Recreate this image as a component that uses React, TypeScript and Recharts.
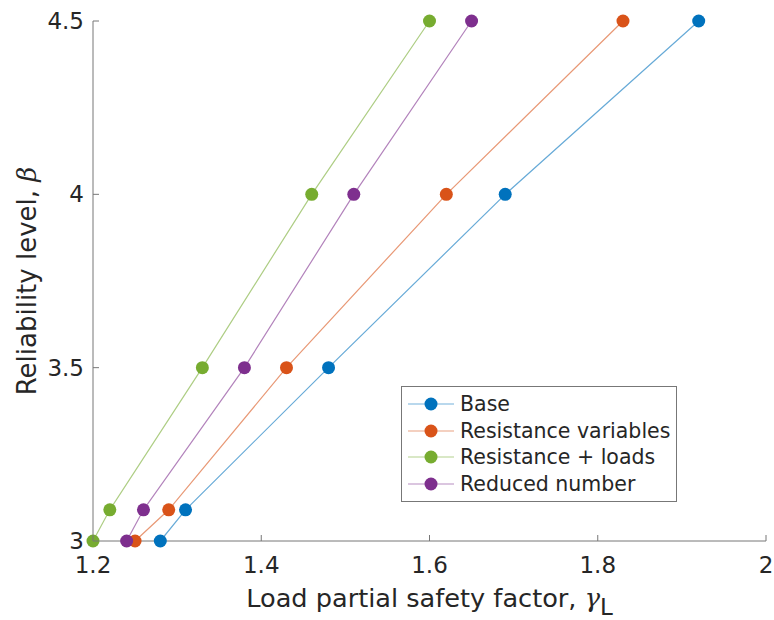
import { LineChart, Line, XAxis, YAxis, Legend } from "recharts";

// reliability targets (beta) and the load factor needed for each
const betaLevels = [3, 3.09, 3.5, 4, 4.5];
const baseGamma = [1.28, 1.31, 1.48, 1.69, 1.92];
const resistanceGamma = [1.25, 1.29, 1.43, 1.62, 1.83];
const resLoadsGamma = [1.2, 1.22, 1.33, 1.46, 1.6];
const reducedGamma = [1.24, 1.26, 1.38, 1.51, 1.65];

const xTicks = [1.2, 1.4, 1.6, 1.8, 2];
const yTicks = [3, 3.5, 4, 4.5];

const seriesNames = ["Base", "Resistance variables", "Resistance + loads", "Reduced number"];
const seriesColors = ["#0072BD", "#D95319", "#77AC30", "#7E2F8E"];
const seriesGamma = [baseGamma, resistanceGamma, resLoadsGamma, reducedGamma];

const series = seriesNames.map((name, i) => ({
  name,
  color: seriesColors[i],
  data: seriesGamma[i].map((g, j) => ({ x: g, y: betaLevels[j] })),
}));

const FONT = "'DejaVu Sans', sans-serif";
const AXIS = "#777";
const TEXT = "#262626";

const XTick = ({ x, y, payload }: any) => (
  <g>
    <line x1={x} x2={x} y1={y} y2={y - 6} stroke={AXIS} />
    <text x={x} y={y + 32} textAnchor="middle" fontSize={23} fontFamily={FONT} fill={TEXT}>
      {String(payload.value)}
    </text>
  </g>
);

const YTick = ({ x, y, payload }: any) => (
  <g>
    <line x1={x} x2={x + 6} y1={y} y2={y} stroke={AXIS} />
    <text x={x - 9} y={y + 8} textAnchor="end" fontSize={23} fontFamily={FONT} fill={TEXT}>
      {String(payload.value)}
    </text>
  </g>
);

const LegendBox = () => (
  <div
    style={{
      border: "1px solid #777",
      background: "#fff",
      width: 274,
      padding: "4px 0",
      fontFamily: FONT,
      fontSize: 20.5,
      color: TEXT,
    }}
  >
    {series.map((s) => (
      <div key={s.name} style={{ display: "flex", alignItems: "center", height: 26.5 }}>
        <svg width={58} height={20} style={{ flex: "none" }}>
          <line x1={6} x2={52} y1={10} y2={10} stroke={s.color} strokeOpacity={0.55} />
          <circle cx={29} cy={10} r={6.5} fill={s.color} />
        </svg>
        <span style={{ whiteSpace: "nowrap" }}>{s.name}</span>
      </div>
    ))}
  </div>
);

export default function App() {
  return (
    <div style={{ position: "absolute", left: 0, top: 0, background: "#fff" }}>
      <LineChart width={774} height={620} margin={{ top: 21, right: 8, bottom: 0, left: 0 }}>
        <XAxis
          type="number"
          dataKey="x"
          domain={[1.2, 2]}
          ticks={xTicks}
          allowDuplicatedCategory={false}
          height={79}
          tickSize={0}
          tickMargin={0}
          tickLine={false}
          stroke={AXIS}
          tick={<XTick />}
          label={({ viewBox }: any) => (
            <text
              x={viewBox.x + viewBox.width / 2}
              y={607}
              textAnchor="middle"
              fontSize={25.6}
              fontFamily={FONT}
              fill={TEXT}
            >
              Load partial safety factor,{" "}
              <tspan fontFamily="'DejaVu Serif', serif" fontStyle="italic">γ</tspan>
              <tspan dy={8} fontSize={23}>L</tspan>
            </text>
          )}
        />
        <YAxis
          type="number"
          dataKey="y"
          domain={[3, 4.5]}
          ticks={yTicks}
          width={93}
          tickSize={0}
          tickMargin={0}
          tickLine={false}
          stroke={AXIS}
          tick={<YTick />}
          label={() => (
            <text
              x={36}
              y={281}
              transform="rotate(-90 36 281)"
              textAnchor="middle"
              fontSize={26}
              fontFamily={FONT}
              fill={TEXT}
            >
              Reliability level,{" "}
              <tspan fontFamily="'DejaVu Serif', serif" fontStyle="italic">β</tspan>
            </text>
          )}
        />
        {series.map((s) => (
          <Line
            key={s.name}
            data={s.data}
            dataKey="y"
            name={s.name}
            stroke={s.color}
            strokeOpacity={0.6}
            strokeWidth={1.2}
            dot={{ r: 6.5, fill: s.color, stroke: s.color, strokeWidth: 0, fillOpacity: 1, strokeOpacity: 1 }}
            activeDot={false}
            isAnimationActive={false}
          />
        ))}
        <Legend
          layout="vertical"
          align="center"
          verticalAlign="middle"
          content={<LegendBox />}
          wrapperStyle={{ position: "absolute", left: 401, top: 386, width: 276 }}
        />
      </LineChart>
    </div>
  );
}
